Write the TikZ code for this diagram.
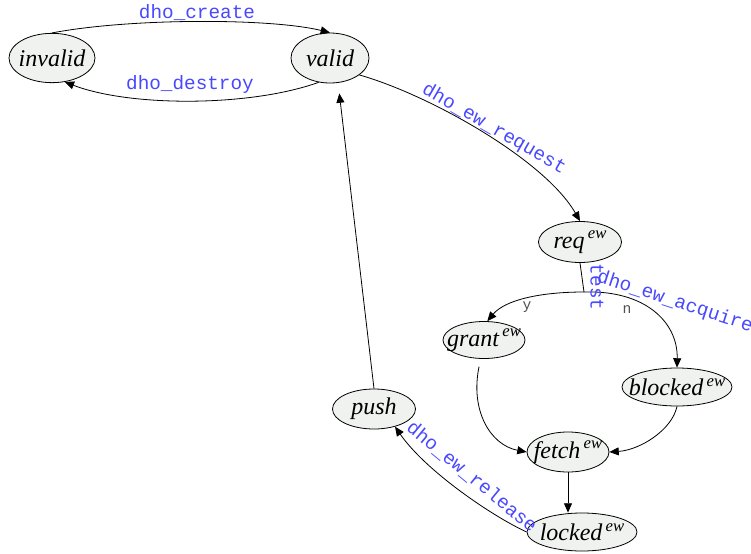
\documentclass[tikz,border=0pt]{standalone}
\usepackage{fontspec}
\setmainfont{Liberation Serif}
\setmonofont{Liberation Mono}
\usetikzlibrary{arrows.meta,shapes.geometric}
\definecolor{statefill}{RGB}{239,242,238}
\definecolor{evblue}{RGB}{72,72,255}
\definecolor{condgray}{RGB}{80,80,80}
\newcommand{\supew}{\kern2.5pt\raisebox{7pt}{\fontsize{12.5}{12.5}\selectfont\itshape ew}}
\tikzset{
  state/.style={ellipse, draw, fill=statefill, inner sep=0pt, line width=.6pt},
  statetext/.style={inner sep=0pt, font=\fontsize{18}{18}\selectfont\itshape},
  trans/.style={-{Triangle[length=7pt,width=6pt]}, line width=.6pt},
  event/.style={text=evblue, inner sep=0pt, font=\fontsize{14.5}{14.5}\selectfont\ttfamily},
  cond/.style={text=condgray, inner sep=0pt, font=\fontsize{11}{11}\selectfont\ttfamily}
}
\begin{document}
\begin{tikzpicture}[x=.75pt,y=-.75pt]
\useasboundingbox (0,0) rectangle (751,554);
\node[state, minimum width=64.5pt, minimum height=37pt, label={[statetext]center:invalid}] (invalid) at (52,58){};
\node[state, minimum width=58.5pt, minimum height=37.5pt, label={[statetext]center:valid}] (valid) at (330,58){};
\node[state, minimum width=62.25pt, minimum height=30.75pt, label={[statetext]center:req\supew}] (req) at (580,242){};
\node[state, minimum width=61.5pt, minimum height=27.75pt, label={[statetext]center:grant\supew}] (grant) at (484,340){};
\node[state, minimum width=82.5pt, minimum height=28.5pt, label={[statetext]center:blocked\supew}] (blocked) at (677,387){};
\node[state, minimum width=62.25pt, minimum height=30pt, label={[statetext]center:push}] (push) at (374,409){};
\node[state, minimum width=61.5pt, minimum height=30pt, label={[statetext]center:fetch\supew}] (fetch) at (568,452){};
\node[state, minimum width=82.5pt, minimum height=28.5pt, label={[statetext]center:locked\supew}] (locked) at (582,532){};
\coordinate (tst) at (584,292);
\draw[trans] (invalid.north) .. controls (130,18) and (270,18) .. (valid.north);
\draw[trans] (valid.-115) .. controls (250,107) and (130,107) .. (invalid.-62);
\draw[trans] (valid.-30) .. controls (430,95) and (545,160) .. (req.north);
\draw[line width=.6pt] (req.south) -- (tst);
\draw[trans] (tst) .. controls (540,292) and (505,300) .. (grant.80);
\draw[trans] (tst) .. controls (645,290) and (678,322) .. (blocked.north);
\draw[trans, shorten <=6pt] (grant.-100) .. controls (470,410) and (490,445) .. (fetch.west);
\draw[trans] (blocked.south) .. controls (672,430) and (640,450) .. (fetch.east);
\draw[trans] (fetch.south) -- (fetch.south |- locked.north);
\draw[trans] (locked.west) .. controls (490,515) and (425,470) .. (push.-40);
\draw[trans, shorten >=8pt] (push.north) -- (valid.-72);
\node[event] (lcreate) at (197,13) {dho\_create};
\node[event] (ldestroy) at (190,84) {dho\_destroy};
\node[event, rotate=-30] (lrequest) at (494,129) {dho\_ew\_request};
\node[event, rotate=-90] (ltest) at (597,287) {test};
\node[event, rotate=-18] (lacquire) at (675,302) {dho\_ew\_acquire};
\node[cond] (lyes) at (527,307) {y};
\node[cond] (lno) at (627,310) {n};
\node[event, rotate=-39.5] (lrelease) at (472,477) {dho\_ew\_release};
\end{tikzpicture}
\end{document}
